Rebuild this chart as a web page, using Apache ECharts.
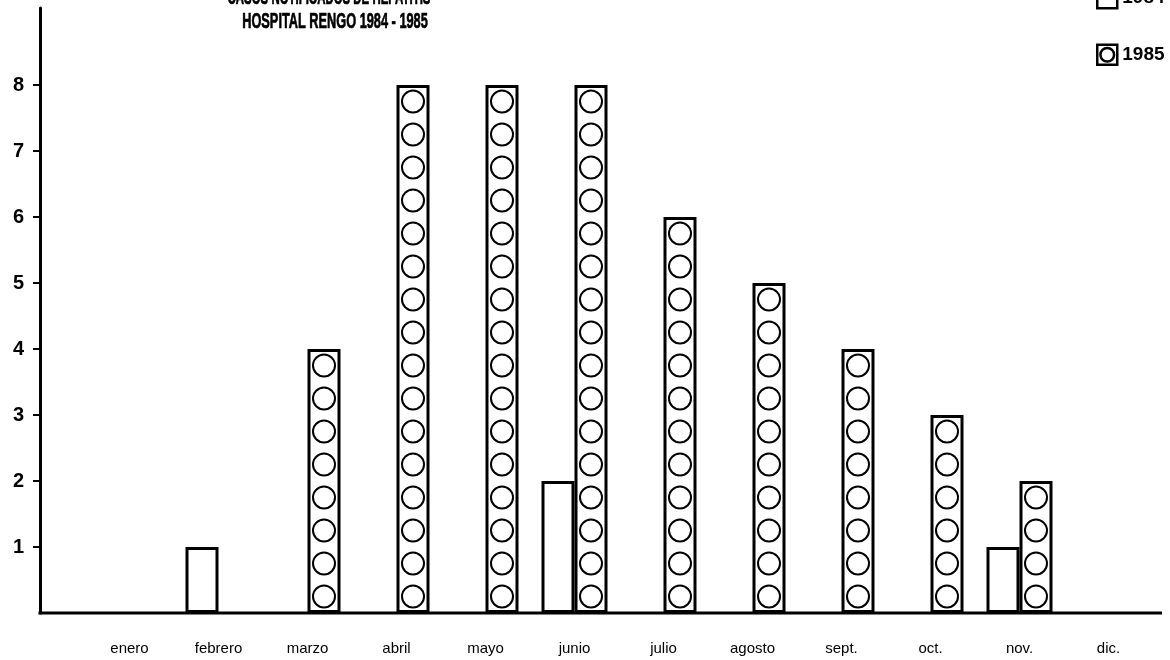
<!DOCTYPE html>
<html>
<head>
<meta charset="utf-8">
<script src="https://cdn.jsdelivr.net/npm/echarts@6/dist/echarts.min.js"></script>
<style>
  html, body { margin: 0; padding: 0; background: #fff; }
  #chart { width: 1170px; height: 660px; }
</style>
</head>
<body>
<div id="chart"></div>
<script>
// ---- data ----
const months = ['enero', 'febrero', 'marzo', 'abril', 'mayo', 'junio', 'julio', 'agosto', 'sept.', 'oct.', 'nov.', 'dic.'];
const cases1984 = [0, 1, 0, 0, 0, 2, 0, 0, 0, 0, 1, 0];
const cases1985 = [0, 0, 4, 8, 8, 8, 6, 5, 4, 3, 2, 0];
const yTickValues = [1, 2, 3, 4, 5, 6, 7, 8];
const seriesNames = ['1984', '1985'];
const titleLines = ['CASOS NOTIFICADOS DE HEPATITIS', 'HOSPITAL RENGO 1984 - 1985'];

// ---- layout ----
const W = 1170, H = 660;
const GRID_LEFT = 85, GRID_TOP = 8, GRID_BOTTOM = 47;
const CAT_W = 89;
const GRID_RIGHT = W - GRID_LEFT - CAT_W * months.length; // 17
const AXIS_X = 40;
const BASE_END_X = 1162;
const BAR_W = 33;
const UNIT_PX = 66;                     // pixels per case
const TILE_H = UNIT_PX / 2;             // two circles per case
const Y_MAX = (H - GRID_TOP - GRID_BOTTOM) / UNIT_PX;
const BOLD = "'Liberation Sans', Arial, 'DejaVu Sans', sans-serif";
const SANS = "'Liberation Sans', Arial, 'DejaVu Sans', sans-serif";

// circle pattern tile aligned to the 1985 bar column
function makeTile() {
  const c = document.createElement('canvas');
  c.width = CAT_W; c.height = TILE_H;
  const g = c.getContext('2d');
  g.fillStyle = '#fff';
  g.fillRect(0, 0, c.width, c.height);
  const cx = ((GRID_LEFT + CAT_W / 2 + BAR_W / 2) % CAT_W);
  const base = H - GRID_BOTTOM;
  const cy = ((base - TILE_H / 2) % TILE_H);
  g.strokeStyle = '#000';
  g.lineWidth = 2;
  [cy - TILE_H, cy, cy + TILE_H].forEach(y => {
    g.beginPath();
    g.arc(cx, y, 11, 0, Math.PI * 2);
    g.stroke();
  });
  return c;
}

const chart = echarts.init(document.getElementById('chart'), null, { renderer: 'canvas' });
const base = H - GRID_BOTTOM;

const option = {
  backgroundColor: '#fff',
  animation: false,
  legend: {
    orient: 'vertical',
    left: 1091, top: -18,
    itemWidth: 20, itemHeight: 20, itemGap: 34,
    textStyle: { fontFamily: BOLD, fontWeight: 'bold', fontSize: 19, color: '#000' },
    data: [
      { name: seriesNames[0], icon: 'rect', itemStyle: { color: '#fff', borderColor: '#000', borderWidth: 2.5 } },
      { name: seriesNames[1], icon: 'path://M0,0H22V22H0Z M11,3.5A7.5,7.5 0 1,0 11,18.5A7.5,7.5 0 1,0 11,3.5Z',
        itemStyle: { color: '#fff', borderColor: '#000', borderWidth: 2.5 } }
    ]
  },
  grid: { left: GRID_LEFT, right: GRID_RIGHT, top: GRID_TOP, bottom: GRID_BOTTOM, containLabel: false },
  xAxis: {
    type: 'category',
    data: months,
    boundaryGap: true,
    axisLine: { show: false },
    axisTick: { show: false },
    axisLabel: { color: '#000', fontFamily: SANS, fontSize: 15, margin: 28, interval: 0 },
    splitLine: { show: false }
  },
  yAxis: {
    type: 'value',
    min: 0, max: Y_MAX, interval: 1,
    offset: GRID_LEFT - AXIS_X,
    axisLine: { show: true, lineStyle: { color: '#000', width: 3 } },
    axisTick: { show: true, customValues: yTickValues, length: 7, lineStyle: { color: '#000', width: 2 } },
    axisLabel: { customValues: yTickValues, color: '#000', fontFamily: BOLD, fontWeight: 'bold', fontSize: 20, margin: 16 },
    splitLine: { show: false }
  },
  series: [
    {
      name: seriesNames[0], type: 'bar',
      data: cases1984.map(v => v === 0 ? null : v),
      barWidth: BAR_W, barGap: '0%',
      itemStyle: { color: '#fff', borderColor: '#000', borderWidth: 3 }
    },
    {
      name: seriesNames[1], type: 'bar',
      data: cases1985.map(v => v === 0 ? null : v),
      barWidth: BAR_W, barGap: '0%',
      itemStyle: { color: { image: makeTile(), repeat: 'repeat' }, borderColor: '#000', borderWidth: 3 }
    }
  ],
  graphic: [
    { type: 'line', shape: { x1: AXIS_X - 1.5, y1: base, x2: BASE_END_X, y2: base },
      style: { stroke: '#000', lineWidth: 3 }, z: 10 },
    { type: 'text', x: 329, y: -2, scaleX: 0.52,
      style: { text: titleLines[0], fontFamily: BOLD, fontWeight: 'bold', fontSize: 22,
               fill: '#000', stroke: '#000', lineWidth: 0.7, textAlign: 'center', textVerticalAlign: 'middle' } },
    { type: 'text', x: 335, y: 22, scaleX: 0.58,
      style: { text: titleLines[1], fontFamily: BOLD, fontWeight: 'bold', fontSize: 22,
               fill: '#000', stroke: '#000', lineWidth: 0.7, textAlign: 'center', textVerticalAlign: 'middle' } }
  ]
};
chart.setOption(option);
</script>
</body>
</html>
